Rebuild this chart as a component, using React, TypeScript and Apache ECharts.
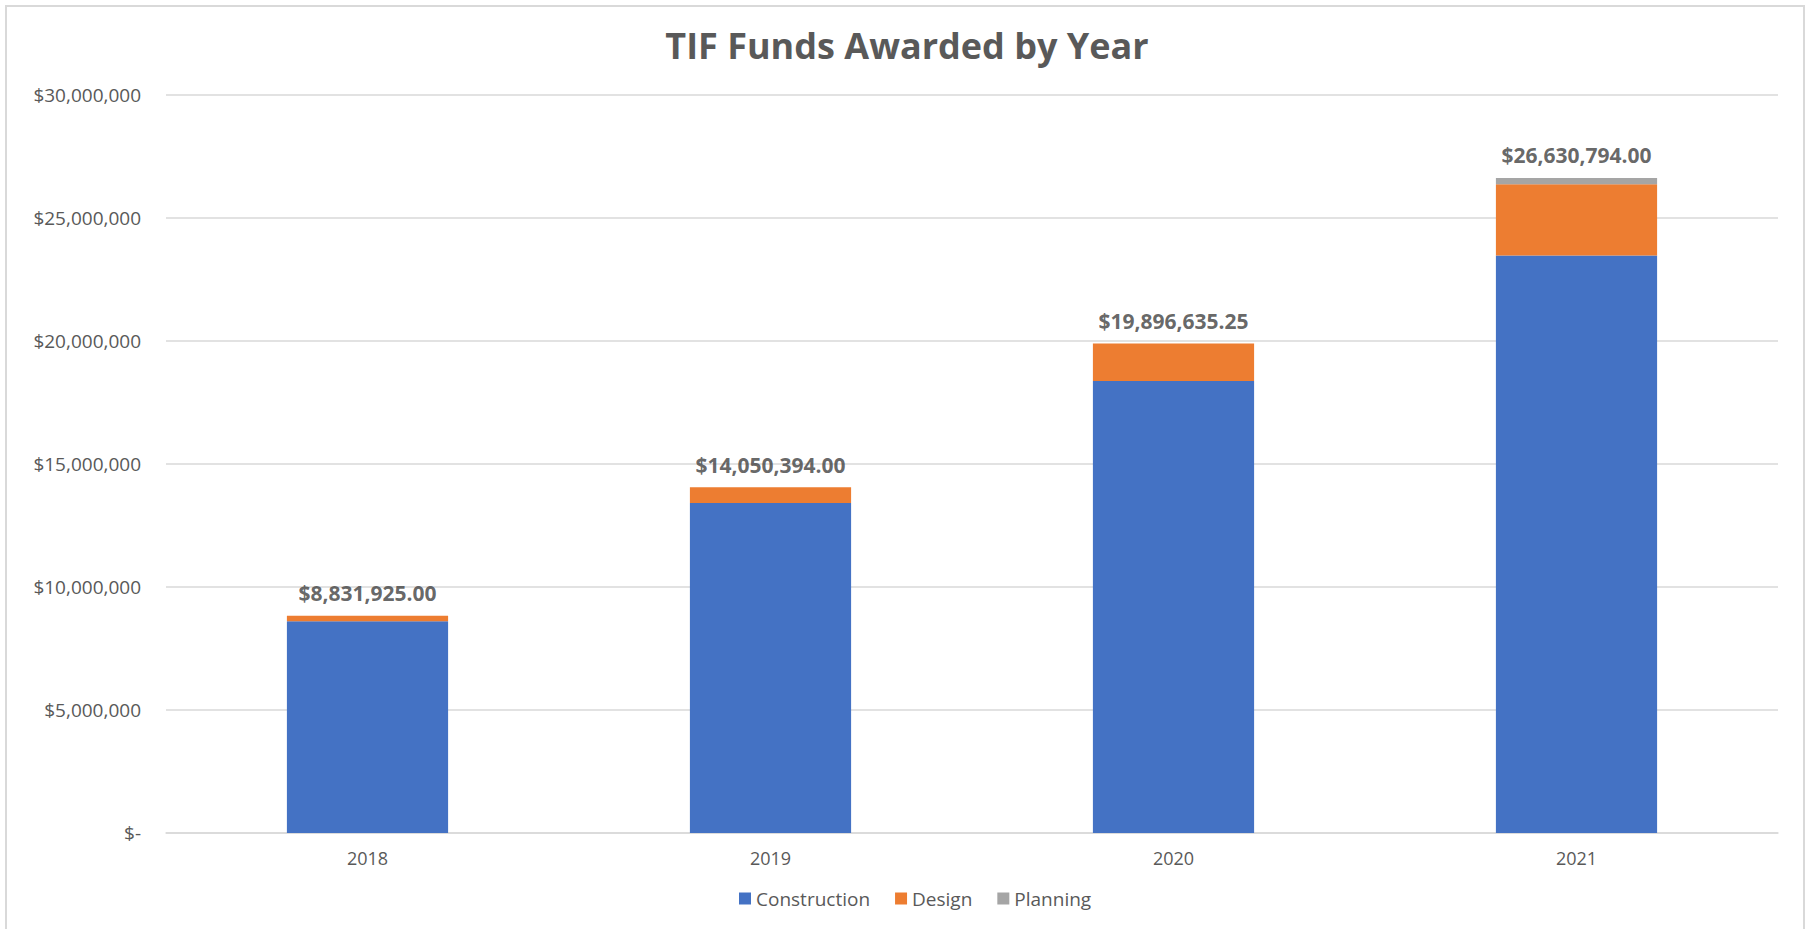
import React, { useEffect, useRef } from "react";
import * as echarts from "echarts";

const years = ["2018", "2019", "2020", "2021"];
const construction = [8610000, 13410000, 18370000, 23480000];
const design = [221925, 640394, 1526635.25, 2890794];
const planning = [0, 0, 0, 260000];
const totals = [8831925, 14050394, 19896635.25, 26630794];
const yTicks = [0, 5000000, 10000000, 15000000, 20000000, 25000000, 30000000];

const FONT = "'Open Sans', 'Noto Sans', sans-serif";

function money(v: number, decimals: number) {
  return "$" + v.toLocaleString("en-US", { minimumFractionDigits: decimals, maximumFractionDigits: decimals });
}

export default function App() {
  const ref = useRef<HTMLDivElement>(null);
  useEffect(() => {
    document.body.style.margin = "0";
    const chart = echarts.init(ref.current!, null, { renderer: "svg" });
    chart.setOption({
      animation: false,
      backgroundColor: "#ffffff",
      textStyle: { fontFamily: FONT },
      title: {
        text: "TIF Funds Awarded by Year",
        left: "center",
        top: 22,
        textStyle: { fontSize: 36, fontWeight: "bold", color: "#595959", fontFamily: FONT },
      },
      graphic: [
        {
          type: "rect",
          shape: { x: 6, y: 6, width: 1798, height: 940 },
          style: { fill: "none", stroke: "#d9d9d9", lineWidth: 2 },
          silent: true,
        },
      ],
      legend: {
        data: ["Construction", "Design", "Planning"],
        bottom: 16,
        left: 734,
        itemWidth: 12,
        itemHeight: 12,
        itemGap: 25,
        icon: "rect",
        textStyle: { fontSize: 19, color: "#595959", fontFamily: FONT },
      },
      grid: { left: 166, right: 36, top: 95, bottom: 96 },
      xAxis: {
        type: "category",
        data: years,
        axisLine: { lineStyle: { color: "#d9d9d9", width: 1.5 } },
        axisTick: { show: false },
        axisLabel: { fontSize: 18, color: "#595959", margin: 16, fontFamily: FONT },
      },
      yAxis: {
        type: "value",
        min: yTicks[0],
        max: yTicks[yTicks.length - 1],
        interval: yTicks[1] - yTicks[0],
        axisLine: { show: false },
        axisTick: { show: false },
        splitLine: { lineStyle: { color: "#d9d9d9", width: 1.5 } },
        axisLabel: {
          fontSize: 19,
          color: "#595959",
          margin: 25,
          fontFamily: FONT,
          formatter: (v: number) => (v === 0 ? "$-" : money(v, 0)),
        },
      },
      series: [
        {
          name: "Construction",
          type: "bar",
          stack: "total",
          data: construction,
          barWidth: "40%",
          itemStyle: { color: "#4472c4" },
        },
        {
          name: "Design",
          type: "bar",
          stack: "total",
          data: design,
          itemStyle: { color: "#ed7d31" },
        },
        {
          name: "Planning",
          type: "bar",
          stack: "total",
          data: planning,
          itemStyle: { color: "#a5a5a5" },
        },
        {
          name: "Total",
          type: "scatter",
          data: totals,
          symbolSize: 0,
          silent: true,
          label: {
            show: true,
            position: "top",
            distance: 12,
            fontSize: 21,
            fontWeight: "bold",
            color: "#404040",
            fontFamily: FONT,
            formatter: (p: any) => money(p.value, 2),
          },
        },
      ],
    });
    return () => chart.dispose();
  }, []);
  return <div ref={ref} style={{ width: 1814, height: 929 }} />;
}
